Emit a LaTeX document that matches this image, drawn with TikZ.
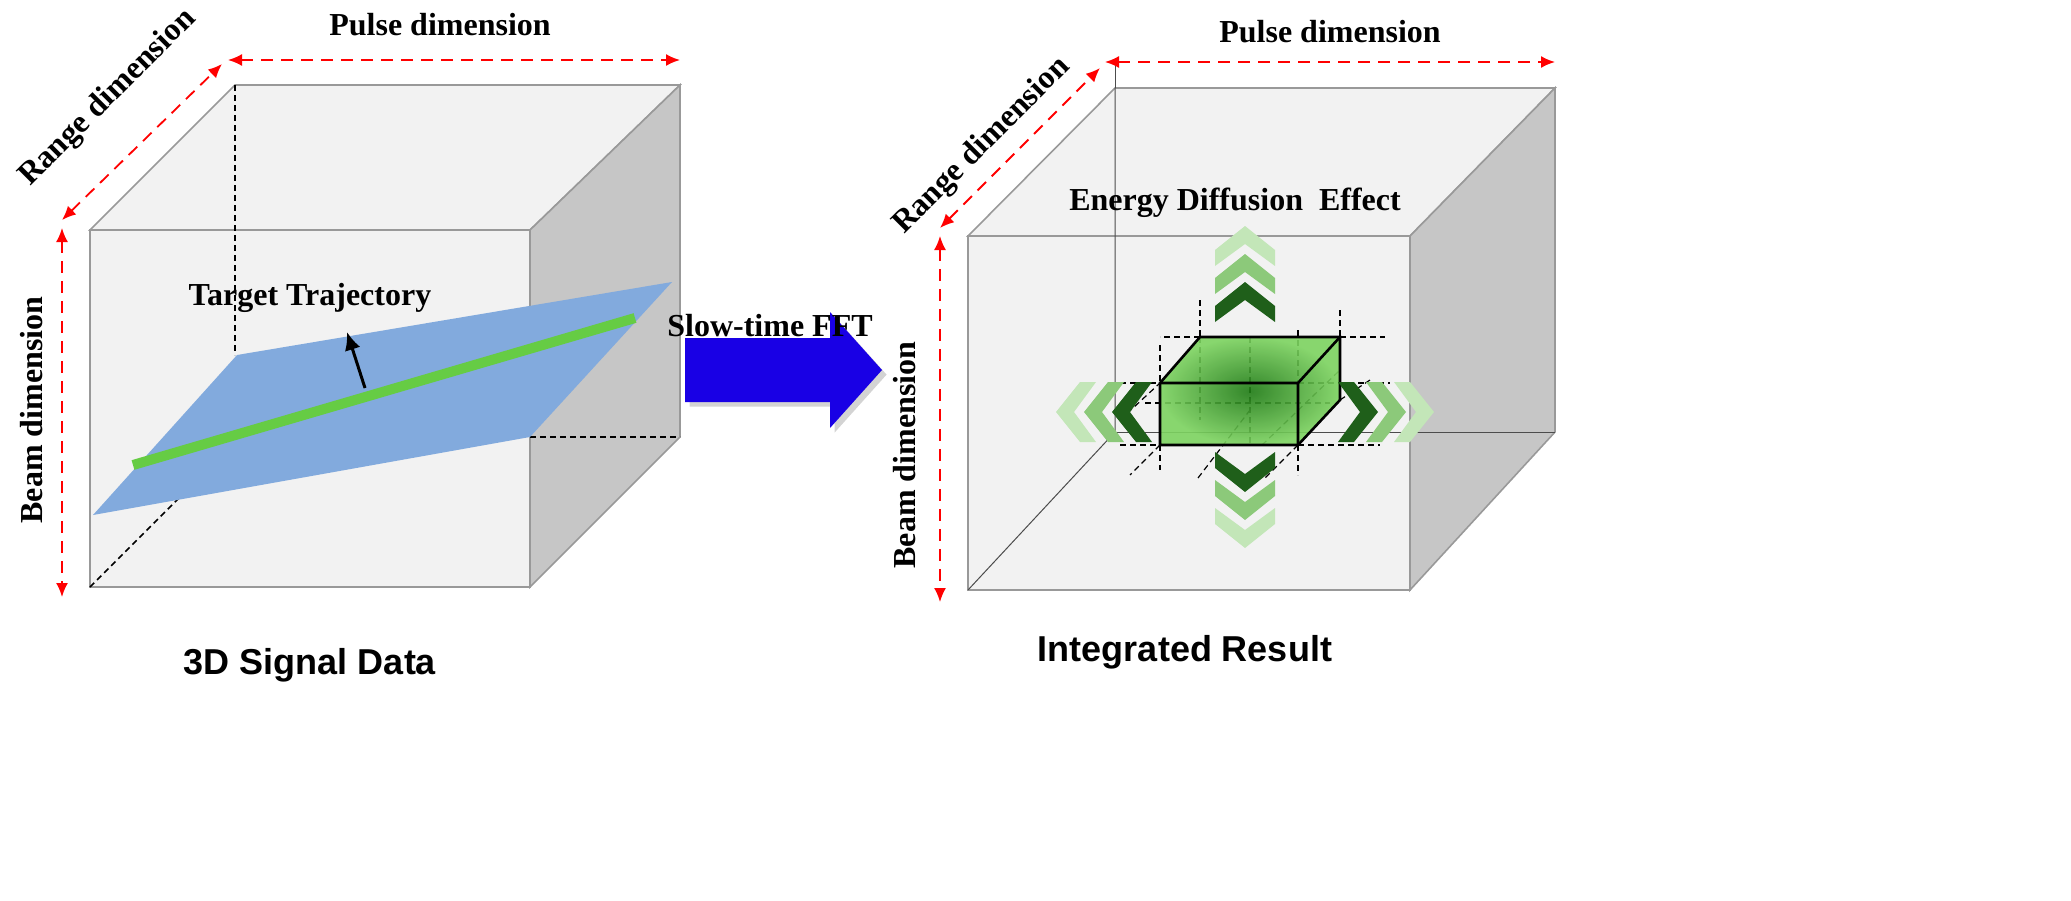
\documentclass[tikz,border=0pt]{standalone}
\usepackage{fontspec}
\setmainfont{Liberation Serif}
\newfontfamily\sansf{Liberation Sans}
\usetikzlibrary{arrows.meta,shadows}
\definecolor{faceg}{HTML}{F2F2F2}
\definecolor{sideg}{HTML}{C6C6C6}
\definecolor{planeb}{HTML}{82AADD}
\definecolor{trajg}{HTML}{66CC44}
\definecolor{chevd}{HTML}{1F5F1A}
\definecolor{chevm}{HTML}{8CC97A}
\definecolor{chevl}{HTML}{C3E6B8}
\tikzset{
 x=0.5pt,y=-0.5pt,
 face/.style={fill=faceg,draw=gray!80,line width=0.8pt},
 side/.style={fill=sideg,draw=gray!80,line width=0.8pt},
 dim/.style={red,dashed,dash pattern=on 6pt off 4pt,line width=0.9pt,{Latex[length=7pt,width=6pt]}-{Latex[length=7pt,width=6pt]}},
 lbl/.style={font=\bfseries\fontsize{16}{18}\selectfont},
 ttl/.style={font=\sansf\bfseries\fontsize{18}{20}\selectfont},
 hid/.style={black,dashed,dash pattern=on 3pt off 2pt,line width=0.8pt},
 gd/.style={black,dashed,dash pattern=on 3pt off 2pt,line width=0.6pt},
}
\newcommand{\chev}[3]{% position, rotation, color
 \fill[#3,shift={#1},rotate=#2] (-30,10)--(0,-14)--(30,10)--(30,26)--(0,4)--(-30,26)--cycle;}
\begin{document}
\begin{tikzpicture}
\useasboundingbox (0,0) rectangle (2071,900);
% ---------- left cube ----------
\coordinate (A1) at (90,230); \coordinate (A2) at (530,230);
\coordinate (A3) at (530,587); \coordinate (A4) at (90,587);
\coordinate (B1) at (235,85); \coordinate (B2) at (680,85);
\coordinate (B3) at (680,437); \coordinate (B4) at (235,437);
\draw[face] (A1)--(B1)--(B2)--(A2)--cycle;
\draw[face] (A1)--(A2)--(A3)--(A4)--cycle;
\draw[side] (A2)--(B2)--(B3)--(A3)--cycle;
\draw[hid] (B1)--(235,355);
\draw[hid] (A4)--(185,492);
\draw[hid] (530,437)--(B3);
\fill[planeb] (93,515)--(237,355)--(672,282)--(530,437)--cycle;
\draw[trajg,line width=5pt] (133,465)--(635,318);
\node[lbl] (tt) at (310,298) {Target Trajectory};
\coordinate (ta) at (365,388); \coordinate (tb) at (347,332);
\draw[-{Latex[length=9pt,width=8pt]},line width=1.5pt] (ta)--(tb);
\draw[dim] (228,60)--(680,60);
\draw[dim] (62,220)--(222,64);
\draw[dim] (62,228)--(62,597);
\node[lbl] at (440,25) {Pulse dimension};
\node[lbl,rotate=45] at (108,98) {Range dimension};
\node[lbl,rotate=90] at (32,410) {Beam dimension};
\node[ttl] at (310,665) {3D Signal Data};
% ---------- big arrow ----------
\fill[blue!80!violet,drop shadow={opacity=0.35}] (685,338)--(830,338)--(830,312)--(882,370)--(830,428)--(830,402)--(685,402)--cycle;
\node[lbl] at (770,326) {Slow-time FFT};
% ---------- right cube ----------
\coordinate (C1) at (968,236); \coordinate (C2) at (1410,236);
\coordinate (C3) at (1410,590); \coordinate (C4) at (968,590);
\coordinate (D1) at (1115,88); \coordinate (D2) at (1555,88);
\coordinate (D3) at (1555,432); \coordinate (D4) at (1115,432);
\draw[face] (C1)--(D1)--(D2)--(C2)--cycle;
\draw[face] (C1)--(C2)--(C3)--(C4)--cycle;
\draw[side] (C2)--(D2)--(D3)--(C3)--cycle;
\draw[black!70,line width=0.5pt] (D1)--(D4)--(C4);
\draw[black!70,line width=0.5pt] (D4)--(D3);
\draw[black!70,line width=0.5pt] (1115,58)--(D1);
\draw[dim] (1105,62)--(1555,62);
\draw[dim] (940,228)--(1100,68);
\draw[dim] (940,236)--(940,602);
\node[lbl] at (1330,32) {Pulse dimension};
\node[lbl,rotate=45] at (982,146) {Range dimension};
\node[lbl,rotate=90] at (905,455) {Beam dimension};
\node[lbl] at (1235,203) {Energy Diffusion\ \ Effect};
\node[ttl] at (1185,652) {Integrated Result};
% green box
\coordinate (G1) at (1160,383); \coordinate (G2) at (1298,383);
\coordinate (G3) at (1298,445); \coordinate (G4) at (1160,445);
\coordinate (H1) at (1200,337); \coordinate (H2) at (1340,337); \coordinate (H3) at (1340,400);
\draw[gd] (1160,345)--(G1); \draw[gd] (1160,445)--(1160,470);
\draw[gd] (1298,330)--(G2); \draw[gd] (1298,445)--(1298,475);
\draw[gd] (1200,300)--(H1); \draw[gd] (1340,310)--(H2);
\draw[gd] (1110,383)--(G1); \draw[gd] (1298,383)--(1390,383);
\draw[gd] (1200,337)--(1160,337); \draw[gd] (H2)--(1385,337);
\draw[gd] (1120,445)--(G4); \draw[gd] (G3)--(1380,445);
\draw[gd] (1145,403)--(1330,403);
\draw[gd] (1120,420)--(G1); \draw[gd] (1340,400)--(1370,380);
\draw[gd] (G3)--(1265,478); \draw[gd] (G4)--(1130,475);
\draw[gd] (1200,337)--(1200,420); \draw[gd] (1250,337)--(1250,445);
\draw[gd] (1198,478)--(1250,410); \draw[gd] (1262,445)--(1340,370);
\shade[inner color=green!35!black!70!trajg,outer color=trajg!85!white,opacity=0.9] (G1)--(H1)--(H2)--(H3)--(G3)--(G4)--cycle;
\draw[black,line width=1.3pt] (G1)--(H1)--(H2)--(H3)--(G3)--(G4)--cycle;
\draw[black,line width=1.3pt] (G1)--(G2)--(G3) (G2)--(H2);
% chevrons
\chev{(1245,296)}{0}{chevd}
\chev{(1245,268)}{0}{chevm}
\chev{(1245,240)}{0}{chevl}
\chev{(1245,478)}{180}{chevd}
\chev{(1245,506)}{180}{chevm}
\chev{(1245,534)}{180}{chevl}
\chev{(1126,412)}{90}{chevd}
\chev{(1098,412)}{90}{chevm}
\chev{(1070,412)}{90}{chevl}
\chev{(1364,412)}{-90}{chevd}
\chev{(1392,412)}{-90}{chevm}
\chev{(1420,412)}{-90}{chevl}
\end{tikzpicture}
\end{document}
